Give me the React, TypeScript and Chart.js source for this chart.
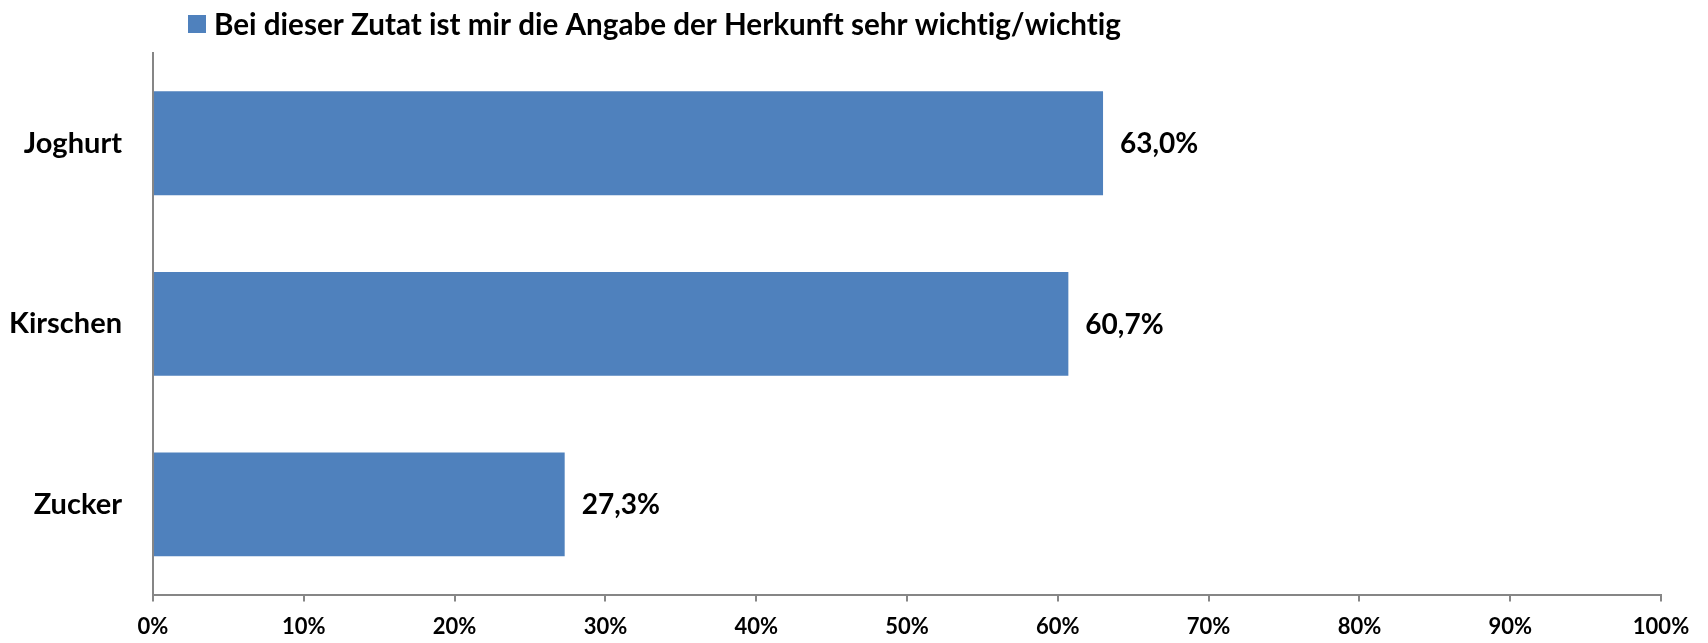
import React, { useEffect, useRef } from "react";
import { Chart, registerables } from "chart.js";

Chart.register(...registerables);

const categories = ["Joghurt", "Kirschen", "Zucker"];
const values = [63.0, 60.7, 27.3];
const seriesLabel = "Bei dieser Zutat ist mir die Angabe der Herkunft sehr wichtig/wichtig";
const xTicks = [0, 10, 20, 30, 40, 50, 60, 70, 80, 90, 100];

const FONT = "Lato, 'Open Sans', sans-serif";
const BAR_COLOR = "#4F81BD";
const AXIS_COLOR = "#868686";

const legendPlugin = {
  id: "customLegend",
  afterDraw(chart: any) {
    const ctx = chart.ctx;
    const ds = chart.data.datasets[0];
    ctx.save();
    ctx.fillStyle = ds.backgroundColor;
    ctx.fillRect(188, 15, 18, 18);
    ctx.fillStyle = "#000";
    ctx.font = `bold 29.6px ${FONT}`;
    try {
      (ctx as any).textRendering = "optimizeSpeed";
    } catch (e) {}
    ctx.textBaseline = "middle";
    ctx.textAlign = "left";
    ctx.fillText(ds.label, 214, 25);
    ctx.restore();
  },
};

const dataLabelPlugin = {
  id: "dataLabels",
  afterDatasetsDraw(chart: any) {
    const ctx = chart.ctx;
    const meta = chart.getDatasetMeta(0);
    const data = chart.data.datasets[0].data as number[];
    ctx.save();
    ctx.fillStyle = "#000";
    ctx.font = `bold 28px ${FONT}`;
    ctx.textBaseline = "middle";
    ctx.textAlign = "left";
    meta.data.forEach((bar: any, i: number) => {
      const txt = data[i].toFixed(1).replace(".", ",") + "%";
      ctx.fillText(txt, bar.x + 17, bar.y + 1);
    });
    ctx.restore();
  },
};

export default function App() {
  const ref = useRef<HTMLCanvasElement>(null);
  useEffect(() => {
    if (!ref.current) return;
    const chart = new Chart(ref.current, {
      type: "bar",
      data: {
        labels: categories,
        datasets: [
          {
            label: seriesLabel,
            data: values,
            backgroundColor: BAR_COLOR,
            barPercentage: 0.575,
            categoryPercentage: 1,
          },
        ],
      },
      options: {
        indexAxis: "y",
        animation: false,
        responsive: false,
        maintainAspectRatio: false,
        layout: { padding: { top: 53, right: 47, left: 0, bottom: 0 } },
        plugins: {
          legend: { display: false },
          tooltip: { enabled: false },
        },
        scales: {
          x: {
            min: 0,
            max: 100,
            afterFit(scale: any) {
              scale.height = 45;
            },
            afterBuildTicks(scale: any) {
              scale.ticks = xTicks.map((v) => ({ value: v }));
            },
            ticks: {
              callback: (v: any) => v + "%",
              color: "#000",
              font: { family: FONT, size: 22, weight: "bold" },
              padding: 12,
              maxRotation: 0,
              autoSkip: false,
            },
            grid: {
              drawOnChartArea: false,
              drawTicks: true,
              tickLength: 7,
              color: AXIS_COLOR,
              lineWidth: 2,
            },
            border: { display: true, color: AXIS_COLOR, width: 2 },
          },
          y: {
            afterFit(scale: any) {
              scale.width = 153;
            },
            ticks: {
              color: "#000",
              font: { family: FONT, size: 29, weight: "bold" },
              padding: 31,
            },
            grid: { display: false, drawTicks: false },
            border: { display: true, color: AXIS_COLOR, width: 2 },
          },
        },
      },
      plugins: [legendPlugin, dataLabelPlugin],
    });
    return () => chart.destroy();
  }, []);
  return (
    <div style={{ position: "fixed", left: 0, top: 0, width: 1708, height: 643, background: "#fff" }}>
      <canvas ref={ref} width={1708} height={643} style={{ display: "block" }} />
    </div>
  );
}
